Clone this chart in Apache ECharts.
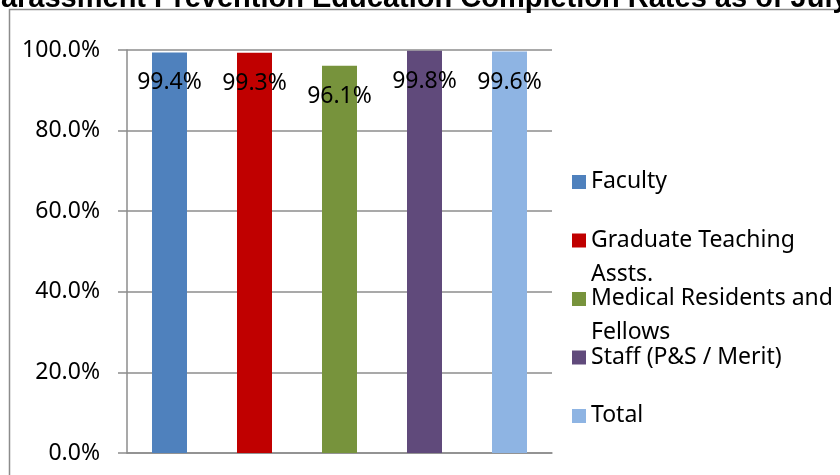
<!DOCTYPE html>
<html>
<head>
<meta charset="utf-8">
<script src="https://cdn.jsdelivr.net/npm/echarts@6/dist/echarts.min.js"></script>
<style>
  html, body { margin: 0; padding: 0; background: #fff; }
  #chart { width: 840px; height: 475px; }
</style>
</head>
<body>
<div id="chart"></div>
<script>
// data
var titleText = 'Harassment Prevention Education Completion Rates as of July';
var groups = ['Faculty', 'Graduate Teaching\nAssts.', 'Medical Residents and\nFellows', 'Staff (P&S / Merit)', 'Total'];
var rates = [0.994, 0.993, 0.961, 0.998, 0.996];

var colors = ['#4f81bd', '#c00000', '#77933c', '#604a7b', '#8eb4e3'];
var font = '"Noto Sans", "Open Sans", sans-serif';

// one series per group, value only in its own slot, overlapped with barGap -100%
var seriesData = groups.map(function (name, idx) {
    return {
        name: name,
        type: 'bar',
        barWidth: 35,
        barGap: '-100%',
        itemStyle: { color: colors[idx] },
        label: {
            show: true,
            position: 'insideTop',
            distance: 19,
            color: '#000',
            fontFamily: font,
            fontSize: 23,
            formatter: function (p) {
                return (p.value * 100).toFixed(1) + '%';
            }
        },
        data: groups.map(function (g, j) {
            return j === idx ? rates[idx] : '-';
        })
    };
});

var option = {
    animation: false,
    backgroundColor: '#fff',
    title: {
        text: titleText,
        left: -20,
        top: -16,
        padding: 0,
        textStyle: {
            fontFamily: '"Liberation Sans", Arial, sans-serif',
            fontWeight: 'bold',
            fontSize: 29,
            color: '#000'
        }
    },
    graphic: [{
        type: 'rect',
        shape: { x: 9.5, y: 9.5, width: 900, height: 600 },
        style: { fill: null, stroke: '#8c8c8c', lineWidth: 1.5 },
        silent: true,
        z: -1
    }],
    legend: {
        orient: 'vertical',
        left: 567,
        top: 165,
        itemWidth: 14,
        itemHeight: 14,
        itemGap: -4,
        icon: 'rect',
        selectedMode: false,
        data: groups,
        // every entry gets two lines so all slots are the same height;
        // wrapped names spill below their slot like the original legend
        formatter: function (name) {
            var parts = name.split('\n');
            return '{a|' + parts[0] + '}\n{b|' + (parts[1] || ' ') + '}';
        },
        textStyle: {
            fontFamily: font,
            fontSize: 23,
            color: '#000',
            rich: {
                a: { fontFamily: font, fontSize: 23, color: '#000', lineHeight: 34 },
                b: { fontFamily: font, fontSize: 23, color: '#000', lineHeight: 1, height: 34, verticalAlign: 'top' }
            }
        }
    },
    grid: {
        left: 127,
        right: 288,
        top: 50,
        bottom: 22,
        containLabel: false
    },
    xAxis: {
        type: 'category',
        data: groups,
        axisLine: { lineStyle: { color: '#8c8c8c', width: 1.5 } },
        axisTick: { show: false },
        axisLabel: { show: false },
        splitLine: { show: false }
    },
    yAxis: {
        type: 'value',
        min: 0,
        max: 1,
        interval: 0.2,
        axisLine: { show: true, lineStyle: { color: '#8c8c8c', width: 1.5 } },
        axisTick: { show: true, length: 9, lineStyle: { color: '#8c8c8c', width: 1.5 } },
        splitLine: { show: true, lineStyle: { color: '#8c8c8c', width: 1.5 } },
        axisLabel: {
            margin: 27,
            color: '#000',
            fontFamily: font,
            fontSize: 23,
            formatter: function (v) {
                return (v * 100).toFixed(1) + '%';
            }
        }
    },
    series: seriesData
};

var chart = echarts.init(document.getElementById('chart'));
chart.setOption(option);
</script>
</body>
</html>
